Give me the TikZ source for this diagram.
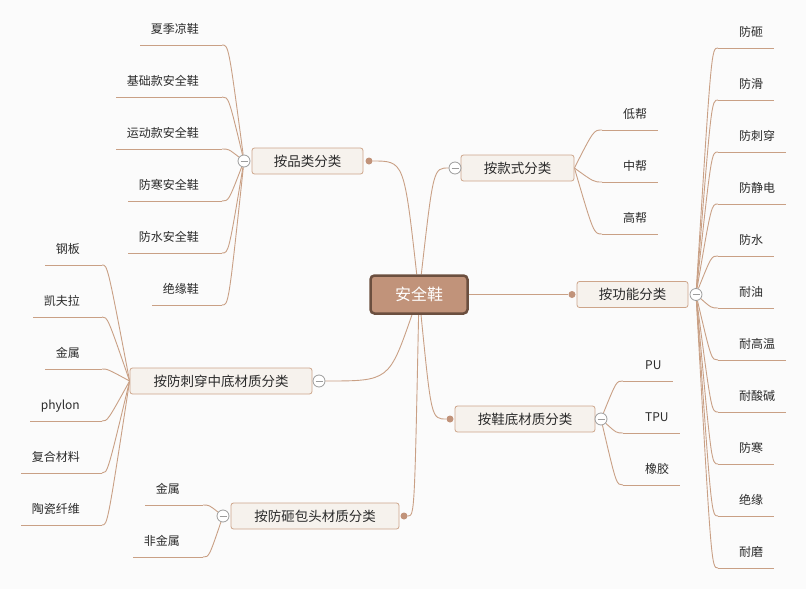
\documentclass[tikz,border=0pt]{standalone}
\usepackage{fontspec}
\setmainfont{Noto Sans CJK SC}
\usetikzlibrary{calc}
\pgfdeclarelayer{bg}
\pgfdeclarelayer{canvas}
\pgfsetlayers{canvas,bg,main}
\definecolor{bgc}{HTML}{FBFBFB}
\definecolor{linkc}{HTML}{C9A085}
\definecolor{boxfill}{HTML}{F6F2ED}
\definecolor{boxdraw}{HTML}{CDA58A}
\definecolor{rootfill}{HTML}{C1937A}
\definecolor{rootdraw}{HTML}{6B4F3F}
\definecolor{circc}{HTML}{9C9C9C}
\definecolor{txtc}{HTML}{2B2B2B}
\newcommand\mmlink[3]{\draw[link] (#1) .. controls ($(#1 |- #2)!#3!(#2)$) .. (#2);}
\begin{document}
\begin{tikzpicture}[x=1pt,y=-1pt,
  link/.style={draw=linkc, line width=0.9pt},
  rootbox/.style={draw=rootdraw, fill=rootfill, line width=2.5pt, rounded corners=4pt, text=white, font=\fontsize{16}{18}\selectfont, minimum width=97pt, minimum height=38pt, inner sep=0pt},
  branch/.style={draw=boxdraw, fill=boxfill, rounded corners=2.5pt, line width=0.8pt, font=\fontsize{13.5}{15}\selectfont, text=txtc, inner sep=0pt, minimum height=26pt},
  leaf/.style={font=\fontsize{12}{14}\selectfont, text=txtc, inner sep=0pt, text height=0.88em, text depth=0.12em},
  toggle/.style={circle, draw=circc, fill=white, line width=0.8pt, minimum size=12pt, inner sep=0pt,
    path picture={\draw[circc, line width=0.8pt] ([xshift=-3.5pt]path picture bounding box.center) -- ([xshift=3.5pt]path picture bounding box.center);}},
  dotc/.style={circle, fill=rootfill, minimum size=7pt, inner sep=0pt},
]
\useasboundingbox (0,0) rectangle (806,589);
\begin{pgfonlayer}{canvas}
\fill[bgc] (0,0) rectangle (806,589);
\end{pgfonlayer}

% root
\node[rootbox] (root) at (419,294.5) {安全鞋};

% branches
\node[branch, minimum width=111pt] (b1) at (307.5,161) {按品类分类};
\node[branch, minimum width=113pt] (b2) at (517.5,168) {按款式分类};
\node[branch, minimum width=111pt] (b3) at (632.5,294.5) {按功能分类};
\node[branch, minimum width=140pt] (b4) at (525,419) {按鞋底材质分类};
\node[branch, minimum width=182pt] (b5) at (221,381) {按防刺穿中底材质分类};
\node[branch, minimum width=168pt] (b6) at (315,516) {按防砸包头材质分类};

% toggles and dots
\node[toggle] (t1) at (244,161) {};
\node[toggle] (t2) at (455,168) {};
\node[toggle] (t3) at (696,294.5) {};
\node[toggle] (t4) at (601,419) {};
\node[toggle] (t5) at (319,381) {};
\node[toggle] (t6) at (223,516) {};
\node[dotc] (d1) at (369,161) {};
\node[dotc] (d3) at (572,294.5) {};
\node[dotc] (d4) at (450,419) {};
\node[dotc] (d6) at (404,516) {};

% main links
\begin{pgfonlayer}{bg}
\mmlink{root}{d1}{0.3}
\mmlink{root}{t2}{0.4}
\draw[link] (root) -- (d3);
\mmlink{root}{d4}{0.4}
\mmlink{root}{t5}{0.3}
\mmlink{root}{d6}{0.3}
\end{pgfonlayer}

% group 1: left, toggle t1
\foreach \t [count=\i from 0] in {夏季凉鞋,基础款安全鞋,运动款安全鞋,防寒安全鞋,防水安全鞋,绝缘鞋} {
  \pgfmathsetmacro\uy{45+52*\i}
  \node[leaf, anchor=east] (pn\i) at (199,\uy-15) {\t};
  \coordinate (pa\i) at (222,\uy);
  \coordinate (pb\i) at ($(pn\i.west |- pa\i)+(-11,0)$);
  \begin{pgfonlayer}{bg}
  \mmlink{t1}{pa\i}{0.7}
  \draw[link] (pa\i) -- (pb\i);
  \end{pgfonlayer}
}

% group 2: right of b2
\foreach \t [count=\i from 0] in {低帮,中帮,高帮} {
  \pgfmathsetmacro\uy{130+52*\i}
  \node[leaf, anchor=west] (kn\i) at (623,\uy-15) {\t};
  \coordinate (ka\i) at (602,\uy);
  \coordinate (kb\i) at ($(kn\i.east |- ka\i)+(11,0)$);
  \begin{pgfonlayer}{bg}
  \mmlink{b2.east}{ka\i}{0.7}
  \draw[link] (ka\i) -- (kb\i);
  \end{pgfonlayer}
}

% group 3: function
\foreach \t [count=\i from 0] in {防砸,防滑,防刺穿,防静电,防水,耐油,耐高温,耐酸碱,防寒,绝缘,耐磨} {
  \pgfmathsetmacro\uy{48+52*\i}
  \node[leaf, anchor=west] (fn\i) at (739,\uy-15) {\t};
  \coordinate (fa\i) at (718,\uy);
  \coordinate (fb\i) at ($(fn\i.east |- fa\i)+(11,0)$);
  \begin{pgfonlayer}{bg}
  \mmlink{t3}{fa\i}{0.7}
  \draw[link] (fa\i) -- (fb\i);
  \end{pgfonlayer}
}

% group 4: sole material
\foreach \t [count=\i from 0] in {PU,TPU,橡胶} {
  \pgfmathsetmacro\uy{381+52*\i}
  \node[leaf, anchor=west] (sn\i) at (645,\uy-15) {\t};
  \coordinate (sa\i) at (623,\uy);
  \coordinate (sb\i) at ($(sn\i.east |- sa\i)+(11,0)$);
  \begin{pgfonlayer}{bg}
  \mmlink{t4}{sa\i}{0.7}
  \draw[link] (sa\i) -- (sb\i);
  \end{pgfonlayer}
}

% group 5: puncture midsole, left of b5
\foreach \t [count=\i from 0] in {钢板,凯夫拉,金属,phylon,复合材料,陶瓷纤维} {
  \pgfmathsetmacro\uy{265+52*\i}
  \node[leaf, anchor=east] (mn\i) at (80,\uy-15) {\t};
  \coordinate (ma\i) at (102,\uy);
  \coordinate (mb\i) at ($(mn\i.west |- ma\i)+(-11,0)$);
  \begin{pgfonlayer}{bg}
  \mmlink{b5.west}{ma\i}{0.8}
  \draw[link] (ma\i) -- (mb\i);
  \end{pgfonlayer}
}

% group 6: toe cap, toggle t6
\foreach \t [count=\i from 0] in {金属,非金属} {
  \pgfmathsetmacro\uy{505+52*\i}
  \node[leaf, anchor=east] (hn\i) at (180,\uy-15) {\t};
  \coordinate (ha\i) at (203,\uy);
  \coordinate (hb\i) at ($(hn\i.west |- ha\i)+(-11,0)$);
  \begin{pgfonlayer}{bg}
  \mmlink{t6}{ha\i}{0.7}
  \draw[link] (ha\i) -- (hb\i);
  \end{pgfonlayer}
}
\end{tikzpicture}
\end{document}
